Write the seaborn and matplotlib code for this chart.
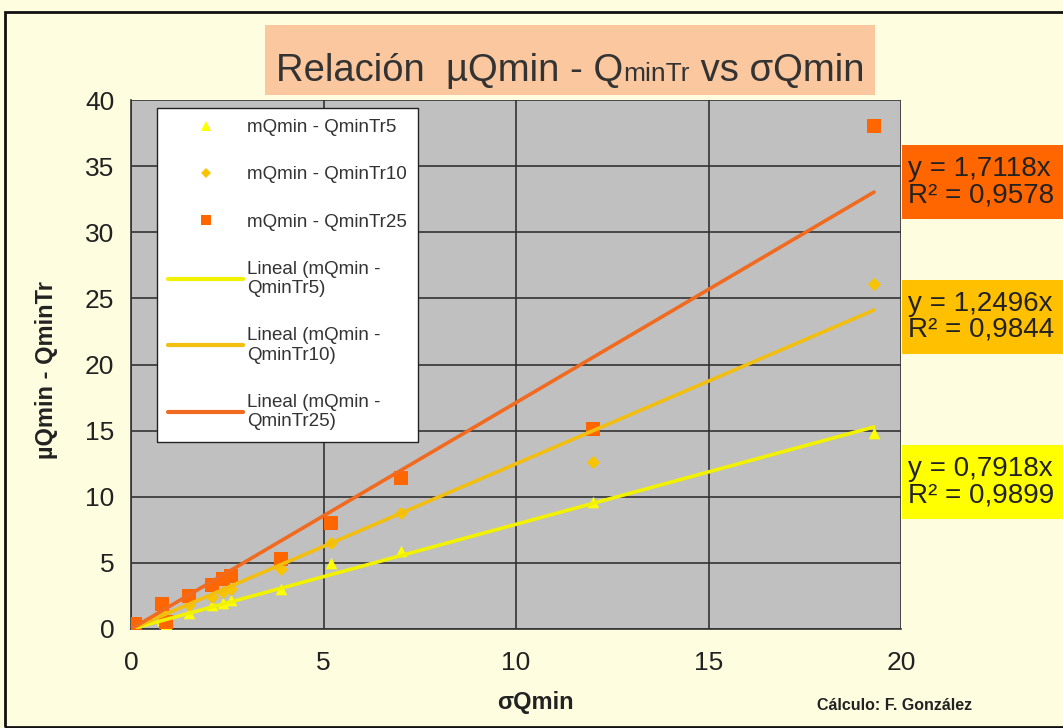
import numpy as np
import pandas as pd
import matplotlib
matplotlib.use("Agg")
import matplotlib.pyplot as plt
from matplotlib.patches import Rectangle
import seaborn as sns

# datos
sigma_q = [0.1, 0.8, 0.9, 1.5, 2.1, 2.4, 2.6, 3.9, 5.2, 7.0, 12.0, 19.3]
tr5 = [0.1, 0.7, 0.4, 1.2, 1.8, 2.0, 2.2, 3.0, 5.0, 5.9, 9.6, 14.8]
tr10 = [0.2, 1.3, 0.6, 1.8, 2.4, 2.8, 3.0, 4.5, 6.5, 8.8, 12.6, 26.1]
tr25 = [0.4, 1.9, 0.5, 2.5, 3.3, 3.8, 4.0, 5.3, 8.0, 11.4, 15.1, 38.0]

series = ["mQmin - QminTr5", "mQmin - QminTr10", "mQmin - QminTr25"]
trend_labels = ["Lineal (mQmin -\nQminTr5)", "Lineal (mQmin -\nQminTr10)", "Lineal (mQmin -\nQminTr25)"]
slopes = [0.7918, 1.2496, 1.7118]
eq_texts = ["y = 0,7918x\nR² = 0,9899", "y = 1,2496x\nR² = 0,9844", "y = 1,7118x\nR² = 0,9578"]

marker_colors = ["#FFFF00", "#F8C400", "#FF6600"]
line_colors = ["#F2F200", "#F2BE10", "#F06A20"]
box_colors = ["#FFFF00", "#FFC000", "#FF6600"]
markers = ["^", "D", "s"]
marker_sizes = [70, 45, 95]

df = pd.DataFrame({"sigma": sigma_q * 3,
                   "valor": tr5 + tr10 + tr25,
                   "serie": np.repeat(series, len(sigma_q))})

sns.set_style("white")
plt.rcParams["font.family"] = ["Liberation Sans", "DejaVu Sans"]

W, H = 1063, 728
fig = plt.figure(figsize=(W / 100, H / 100), dpi=100, facecolor="#FFFDE0")
ax = fig.add_axes([131 / W, 1 - 629 / H, 770 / W, 529 / H])
ax.set_facecolor("#C0C0C0")

# marco exterior
fig.patches.append(Rectangle((5 / W, 0.002), 1.2, 1 - 12 / H - 0.002, transform=fig.transFigure,
                             fill=False, edgecolor="#111111", linewidth=2, zorder=0))

handles_pts = []
for i, s in enumerate(series):
    sub = df[df["serie"] == s]
    sns.scatterplot(data=sub, x="sigma", y="valor", ax=ax, marker=markers[i], s=marker_sizes[i],
                    color=marker_colors[i], edgecolor=marker_colors[i], linewidth=0, zorder=3)
    handles_pts.append(plt.Line2D([], [], marker=markers[i], color=marker_colors[i], linestyle="none",
                                  markersize=6.5 if i != 1 else 5, markeredgewidth=0))

handles_lines = []
xmax = max(sigma_q)
for i in range(3):
    x_fit = np.array([0, xmax])
    sns.lineplot(x=x_fit, y=slopes[i] * x_fit, ax=ax, color=line_colors[i], linewidth=2.6, zorder=4)
    handles_lines.append(plt.Line2D([], [], color=line_colors[i], linewidth=3))

ax.set_xlim(0, 20)
ax.set_ylim(0, 40)
ax.set_xticks(range(0, 21, 5))
ax.set_yticks(range(0, 41, 5))
ax.grid(True, color="#333333", linewidth=1.2)
ax.set_axisbelow(True)
for sp in ["top", "right"]:
    ax.spines[sp].set_visible(False)
for sp in ["left", "bottom"]:
    ax.spines[sp].set_color("#333333")
    ax.spines[sp].set_linewidth(1.2)
ax.tick_params(axis="both", labelsize=19, colors="#222222", length=6, width=1.2, direction="out", pad=6)
ax.tick_params(axis="x", pad=10)
ax.set_xlabel("")
ax.set_ylabel("")

leg = ax.legend(handles_pts + handles_lines, series + trend_labels, loc="upper left",
                bbox_to_anchor=(0.034, 0.985), borderaxespad=0, frameon=True, fancybox=False,
                fontsize=13.5, handlelength=4.0, labelspacing=1.6, borderpad=0.6, handletextpad=0.2)
leg.get_frame().set_edgecolor("#222222")
leg.get_frame().set_facecolor("white")
leg.get_frame().set_alpha(1)
leg.set_zorder(10)
for t in leg.get_texts():
    t.set_color("#333333")

# etiquetas de ejes
fig.text(47 / W, 1 - 370 / H, "µQmin - QminTr", rotation=90, ha="center", va="center",
         fontsize=17, fontweight="bold", color="#222222")
fig.text(535 / W, 1 - 703 / H, "σQmin", ha="center", va="center",
         fontsize=17, fontweight="bold", color="#222222")
fig.text(895 / W, 1 - 705 / H, "Cálculo: F. González", ha="center", va="center",
         fontsize=11.5, fontweight="bold", color="#222222")

# título
fig.patches.append(Rectangle((265 / W, 1 - 95 / H), 610 / W, 70 / H, transform=fig.transFigure,
                             facecolor="#FBC79E", edgecolor="none", zorder=1))
renderer = fig.canvas.get_renderer()
base_y = 1 - 81 / H
x_px = 276
for txt, size in [("Relación  µQmin - Q", 27.5), ("minTr", 19), (" vs σQmin", 27.5)]:
    t = fig.text(x_px / W, base_y, txt, fontsize=size, color="#333333", ha="left", va="baseline", zorder=2)
    x_px += t.get_window_extent(renderer).width

# cajas de ecuaciones
box_tops = [445, 280, 145]
for i in range(3):
    y0 = 1 - (box_tops[i] + 74) / H
    fig.patches.append(Rectangle((902 / W, y0), 170 / W, 74 / H, transform=fig.transFigure,
                                 facecolor=box_colors[i], edgecolor="none", zorder=1))
    fig.text(908 / W, y0 + 37 / H, eq_texts[i], fontsize=20, color="#222222", ha="left",
             va="center", linespacing=1.0, zorder=2)

fig.savefig("out.png", dpi=100, facecolor=fig.get_facecolor())
